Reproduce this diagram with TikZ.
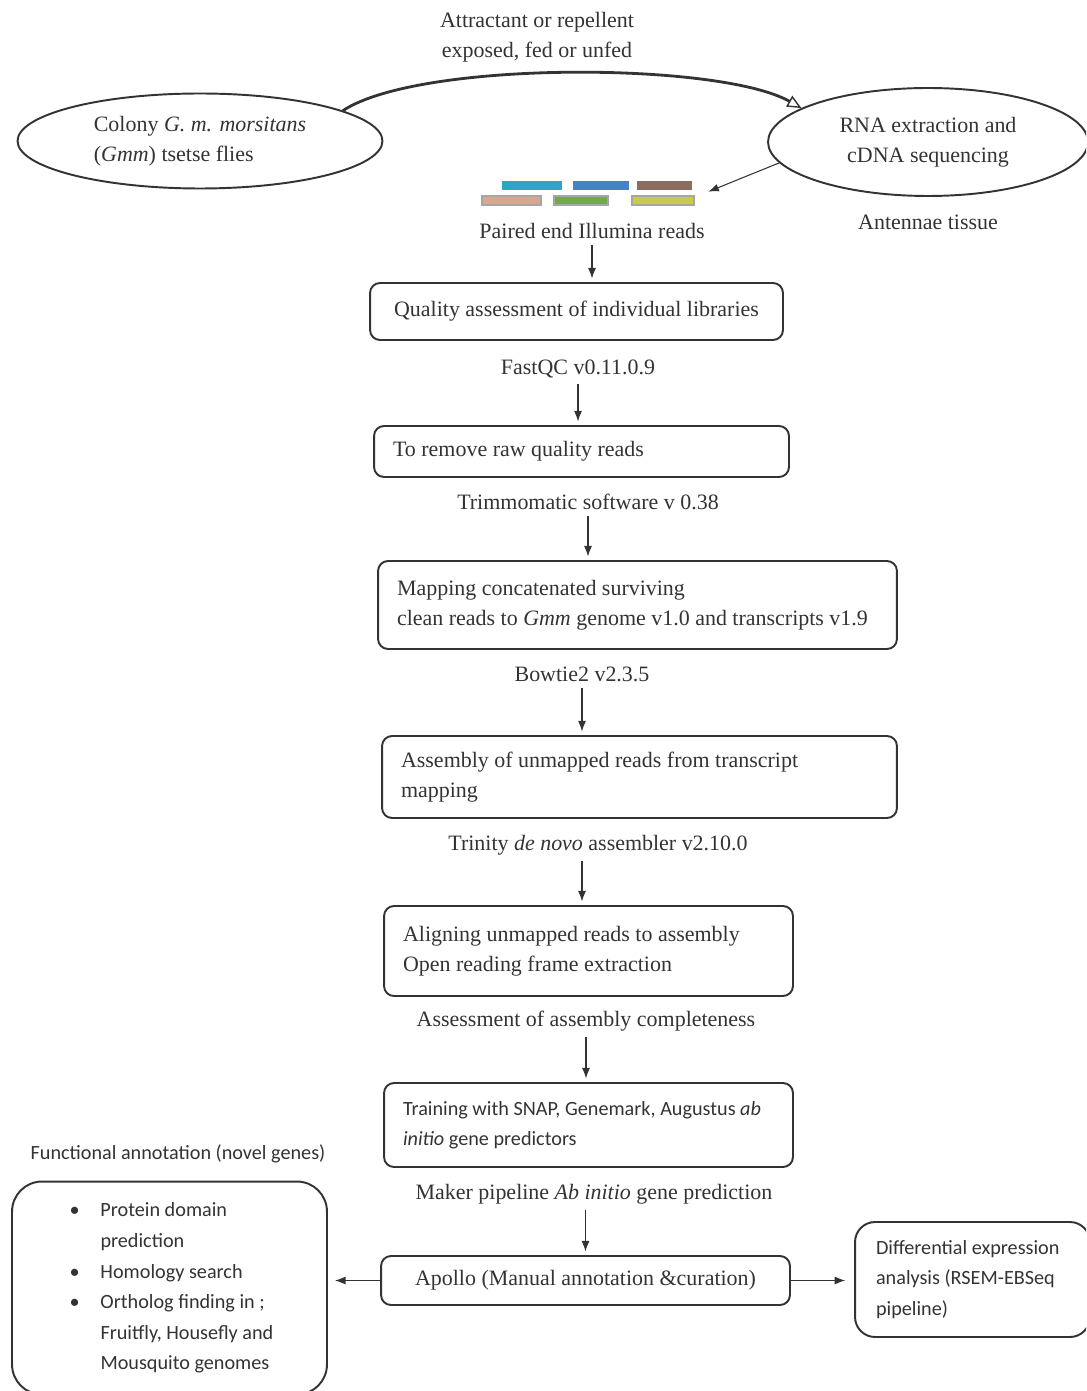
\documentclass[tikz,border=0pt]{standalone}
\usepackage{fontspec}
\setmainfont{Liberation Serif}
\newfontfamily\calfont{Carlito}
\usetikzlibrary{arrows.meta,shapes.geometric}

\definecolor{inkgray}{HTML}{333333}
\definecolor{barteal}{HTML}{2EA6C3}
\definecolor{barblue}{HTML}{4A80C8}
\definecolor{barbrown}{HTML}{8C6D5F}
\definecolor{barpeach}{HTML}{D8A88E}
\definecolor{bargreen}{HTML}{70AD47}
\definecolor{barolive}{HTML}{C9CB4F}

\newcommand\txtserif{\rmfamily\fontsize{12.5}{17}\selectfont}
\newcommand\txtsans{\calfont\fontsize{11.5}{17.4}\selectfont}

\tikzset{
  flowbox/.style={draw=inkgray, line width=1.1pt, rounded corners=0.2cm,
    inner xsep=0.38cm, align=flush left, text=inkgray, font=\txtserif},
  oval/.style={draw=inkgray, line width=1.1pt, ellipse, inner sep=0pt,
    align=left, text=inkgray, font=\txtserif},
  lbl/.style={text=inkgray, font=\txtserif, align=center},
  flowarrow/.style={draw=inkgray, line width=0.6pt,
    -{Latex[length=6pt,width=4.5pt]}, shorten >=2pt},
  curvearrow/.style={draw=inkgray, line width=1.6pt,
    -{Triangle[open,length=8pt,width=7pt,line width=0.8pt]}},
  readbar/.style={draw=gray!70, line width=0.6pt}
}

\begin{document}
\begin{tikzpicture}[x=0.02cm, y=-0.02cm]
  \useasboundingbox (0,0) rectangle (1086,1391);
  \clip (0,0) rectangle (1086,1391);

  % samples and sequencing
  \node[lbl] (lblexpose) at (537,37) {Attractant or repellent\\exposed, fed or unfed};
  \node[oval, minimum width=7.3cm, minimum height=1.9cm] (colony) at (200,141)
    {Colony \textit{G. m. morsitans}\\(\textit{Gmm}) tsetse flies};
  \node[oval, align=center, minimum width=6.4cm, minimum height=2.16cm] (rna) at (928,142)
    {RNA extraction and\\cDNA sequencing};
  \node[lbl] (lbltissue) at (928,222) {Antennae tissue};
  \draw[curvearrow] (colony.12) .. controls (420,60) and (720,62) .. (rna.165);

  % illumina reads
  \fill[barteal] (502,181) rectangle (562,190);
  \fill[barblue] (573,181) rectangle (629,190);
  \fill[barbrown] (637,181) rectangle (692,190);
  \draw[readbar, fill=barpeach] (482,196) rectangle (541,205);
  \draw[readbar, fill=bargreen] (554,196) rectangle (608,205);
  \draw[readbar, fill=barolive] (632,196) rectangle (694,205);
  \coordinate (readstip) at (705,193);
  \draw[flowarrow] (rna.188) -- (readstip);
  \node[lbl] (lblreads) at (592,231) {Paired end Illumina reads};

  % pipeline
  \node[flowbox, align=flush center, text width=7.5cm, minimum height=1.14cm] (qcbox) at (576.5,311.5)
    {Quality assessment of individual libraries};
  \node[lbl] (lblfastqc) at (578,369) {FastQC v0.11.0.9};
  \node[flowbox, text width=7.54cm, minimum height=1.02cm] (trimbox) at (581.5,451.5)
    {To remove raw quality reads};
  \node[lbl] (lbltrim) at (588,502) {Trimmomatic software v 0.38};
  \node[flowbox, text width=9.62cm, minimum height=1.76cm] (mapbox) at (637.5,605)
    {Mapping concatenated surviving\\\mbox{clean reads to \textit{Gmm} genome v1.0 and transcripts v1.9}};
  \node[lbl] (lblbowtie) at (582,674) {Bowtie2 v2.3.5};
  \node[flowbox, text width=9.54cm, minimum height=1.64cm] (asmbox) at (639.5,777)
    {Assembly of unmapped reads from transcript\\mapping};
  \node[lbl] (lbltrinity) at (598,845) {Trinity \textit{de novo} assembler v2.10.0};
  \node[flowbox, text width=7.42cm, minimum height=1.8cm] (alignbox) at (588.5,951)
    {Aligning unmapped reads to assembly\\Open reading frame extraction};
  \node[lbl] (lblbusco) at (586,1021) {Assessment of assembly completeness};
  \node[flowbox, font=\txtsans, text width=7.42cm, minimum height=1.68cm] (trainbox) at (588.5,1125)
    {Training with SNAP, Genemark, Augustus \textit{ab}\\\textit{initio} gene predictors};
  \node[lbl] (lblmaker) at (594,1194) {Maker pipeline \textit{Ab initio} gene prediction};
  \node[flowbox, align=flush center, text width=7.42cm, minimum height=0.98cm] (apollobox) at (585.5,1280.5)
    {Apollo (Manual annotation \&curation)};

  % annotation outputs
  \node[lbl, font=\txtsans] (lblfunc) at (178,1154) {Functional annotation (novel genes)};
  \node[flowbox, font=\txtsans, rounded corners=0.6cm, inner xsep=0.75cm, text width=4.8cm,
    minimum height=4.26cm] (funcbox) at (169.5,1288)
    {\hspace*{0.4cm}\makebox[0.62cm][l]{\textbullet}Protein domain\\
     \hspace*{1.02cm}prediction\\
     \hspace*{0.4cm}\makebox[0.62cm][l]{\textbullet}Homology search\\
     \hspace*{0.4cm}\makebox[0.62cm][l]{\textbullet}Ortholog finding in ;\\
     \hspace*{1.02cm}\mbox{Fruitfly, Housefly and}\\
     \hspace*{1.02cm}Mousquito genomes};
  \node[flowbox, font=\txtsans, rounded corners=0.4cm, inner xsep=0.42cm, text width=3.86cm,
    minimum height=2.3cm] (diffbox) at (972.5,1279.5)
    {Differential expression\\analysis (RSEM-EBSeq\\pipeline)};

  % connectors
  \draw[flowarrow] (lblreads.south) -- (lblreads.south |- qcbox.north);
  \draw[flowarrow] (lblfastqc.south) -- (lblfastqc.south |- trimbox.north);
  \draw[flowarrow] (lbltrim.south) -- (lbltrim.south |- mapbox.north);
  \draw[flowarrow] (lblbowtie.south) -- (lblbowtie.south |- asmbox.north);
  \draw[flowarrow] (lbltrinity.south -| lblbowtie) -- (lblbowtie |- alignbox.north);
  \draw[flowarrow] (lblbusco.south) -- (lblbusco.south |- trainbox.north);
  \draw[flowarrow] (lblmaker.south -| apollobox) -- (apollobox.north);
  \draw[flowarrow, shorten >=4pt] (apollobox.west) -- (apollobox.west -| funcbox.east);
  \draw[flowarrow, shorten >=5pt] (apollobox.east) -- (apollobox.east -| diffbox.west);
\end{tikzpicture}
\end{document}
